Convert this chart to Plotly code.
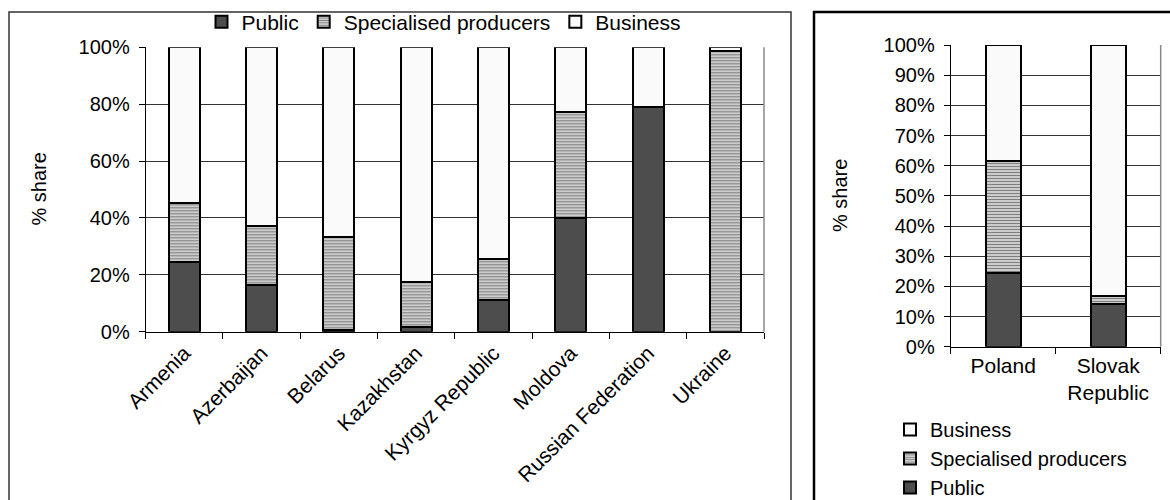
import plotly.graph_objects as go

# CIS countries: share of each producer type (%)
cis_countries = ["Armenia", "Azerbaijan", "Belarus", "Kazakhstan", "Kyrgyz Republic",
                 "Moldova", "Russian Federation", "Ukraine"]
cis_public = [24.6, 16.3, 0.6, 1.8, 11.1, 40.1, 79.0, 0.0]
cis_specialised = [20.7, 21.0, 32.6, 15.8, 14.6, 37.2, 0.0, 98.6]
cis_business = [54.7, 62.7, 66.8, 82.4, 74.3, 22.7, 21.0, 1.4]

# Central European countries
ce_countries = ["Poland", "Slovak<br>Republic"]
ce_public = [24.5, 14.0]
ce_specialised = [37.2, 2.9]
ce_business = [38.3, 83.1]

left_ticks = [0, 20, 40, 60, 80, 100]
right_ticks = [0, 10, 20, 30, 40, 50, 60, 70, 80, 90, 100]

FONT = "Liberation Sans, Arial, sans-serif"
FS_Y = 20
FS_X = 21
FS_LEG = 21
FS_LEG2 = 20
PUBLIC_COL = "#4d4d4d"
BUSINESS_COL = "#fafafa"

W, H = 1170, 500


def px_x(v):
    return v / W


def px_y(v):
    return 1 - v / H


fig = go.Figure()

series = [
    ("Public", cis_public, ce_public, dict(color=PUBLIC_COL)),
    ("Specialised producers", cis_specialised, ce_specialised,
     dict(color="white", pattern=dict(shape="-", fgcolor="black", bgcolor="white",
                                      size=3, solidity=0.6))),
    ("Business", cis_business, ce_business, dict(color=BUSINESS_COL)),
]

for name, left_vals, right_vals, style in series:
    fig.add_trace(go.Bar(
        x=cis_countries, y=left_vals, name=name, width=0.4,
        marker=dict(line=dict(color="black", width=2), **style),
        xaxis="x", yaxis="y", legend="legend", hoverinfo="skip",
    ))
    fig.add_trace(go.Bar(
        x=ce_countries, y=right_vals, name=name, width=0.33,
        marker=dict(line=dict(color="black", width=2), **style),
        xaxis="x2", yaxis="y2", legend="legend2", hoverinfo="skip",
    ))

axis_common = dict(
    zeroline=False, showline=True, linecolor="black", linewidth=1,
    ticks="outside", ticklen=6, tickcolor="black", automargin=False,
)
x_common = dict(axis_common, tickfont=dict(family=FONT, size=FS_X, color="black"),
                type="category", tickson="boundaries", showgrid=False)
y_common = dict(axis_common, tickfont=dict(family=FONT, size=FS_Y, color="black"),
                range=[0, 100], tickmode="array", showgrid=True, gridcolor="#333333",
                gridwidth=1, ticklabelstandoff=5)

fig.update_layout(
    width=W, height=H,
    margin=dict(l=0, r=0, t=0, b=0, autoexpand=False),
    paper_bgcolor="white", plot_bgcolor="white",
    barmode="stack",
    font=dict(family=FONT, size=FS_LEG, color="black"),
    xaxis=dict(domain=[px_x(145.7), px_x(764)], anchor="y", tickangle=-45, **x_common),
    yaxis=dict(domain=[px_y(331.7), px_y(47.3)], anchor="x", tickvals=left_ticks,
               ticktext=[f"{v}%" for v in left_ticks], **y_common),
    xaxis2=dict(domain=[px_x(950.7), px_x(1160.7)], anchor="y2", tickangle=0, **x_common),
    yaxis2=dict(domain=[px_y(346.7), px_y(45)], anchor="x2", tickvals=right_ticks,
                ticktext=[f"{v}%" for v in right_ticks], **y_common),
    legend=dict(orientation="h", x=px_x(444), xanchor="center", y=px_y(22), yanchor="middle",
                traceorder="normal", bgcolor="rgba(0,0,0,0)", font=dict(size=FS_LEG),
                itemwidth=30, tracegroupgap=0),
    legend2=dict(orientation="v", x=px_x(890), xanchor="left", y=px_y(410), yanchor="top",
                 traceorder="reversed", bgcolor="rgba(0,0,0,0)", font=dict(size=FS_LEG2),
                 itemwidth=30, tracegroupgap=0),
    annotations=[
        dict(text="% share", x=px_x(38), y=px_y(189.5), xref="paper", yref="paper",
             xanchor="center", yanchor="middle", textangle=-90, showarrow=False,
             font=dict(family=FONT, size=FS_Y)),
        dict(text="% share", x=px_x(840), y=px_y(196), xref="paper", yref="paper",
             xanchor="center", yanchor="middle", textangle=-90, showarrow=False,
             font=dict(family=FONT, size=FS_Y)),
    ],
    shapes=[
        # outer chart frames
        dict(type="rect", xref="paper", yref="paper", x0=px_x(9), x1=px_x(791),
             y0=px_y(505), y1=px_y(12), line=dict(color="#333333", width=1.5)),
        dict(type="rect", xref="paper", yref="paper", x0=px_x(814), x1=px_x(1175),
             y0=px_y(505), y1=px_y(12), line=dict(color="black", width=2.5)),
        # plot-area borders (top and right)
        dict(type="line", xref="paper", yref="paper", x0=px_x(764), x1=px_x(764),
             y0=px_y(331.7), y1=px_y(47.3), line=dict(color="#888888", width=1.5)),
        dict(type="line", xref="paper", yref="paper", x0=px_x(1160.7), x1=px_x(1160.7),
             y0=px_y(346.7), y1=px_y(45), line=dict(color="#888888", width=1.5)),
    ],
)

fig.write_html("out.html")
